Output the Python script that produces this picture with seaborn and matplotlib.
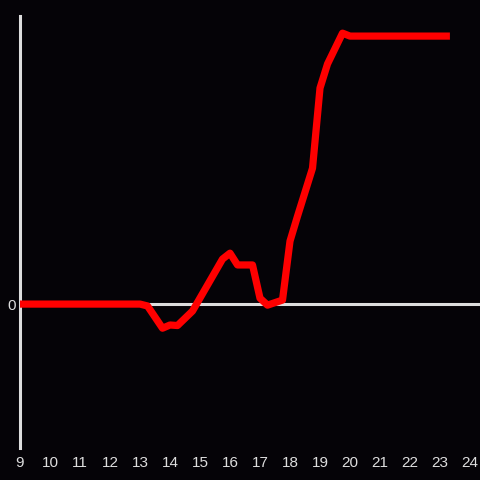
import numpy as np
import pandas as pd
import seaborn as sns
import matplotlib.pyplot as plt

# heures et valeurs
hours = [9.0, 13.0, 13.25, 13.75, 14.0, 14.25, 14.75, 15.75, 16.0, 16.25, 16.75,
         17.0, 17.25, 17.75, 18.0, 18.25, 18.75, 19.0, 19.25, 19.75, 20.0, 23.33]
values = [0, 0, -0.7, -9.0, -7.8, -8.0, -2.6, 16.8, 19.0, 14.6, 14.6,
          2.2, -0.4, 1.5, 23.5, 32.8, 50.7, 80.6, 89.6, 101.1, 100, 100]
x_ticks = list(range(9, 25))

df = pd.DataFrame({"heure": hours, "valeur": values})

sns.set_style("dark")
plt.rcParams['font.family'] = ['Liberation Sans', 'DejaVu Sans']

bg = "#050307"
fig = plt.figure(figsize=(4.8, 4.8), dpi=100, facecolor=bg)
ax = fig.add_axes([20 / 480, 32 / 480, 460 / 480, 432 / 480])
ax.set_facecolor(bg)

ax.axhline(0, color="#dddddd", lw=2.2, zorder=1)
sns.lineplot(data=df, x="heure", y="valeur", ax=ax, color="#ff0000", lw=5.2,
             solid_joinstyle="round", solid_capstyle="butt", zorder=3)

ax.set_xlim(9, 24.333)
ax.set_ylim(-53.7, 107.5)
ax.set_xticks(x_ticks)
ax.set_xticklabels([str(t) for t in x_ticks])
ax.set_yticks([0])
ax.set_yticklabels(["0"])
ax.tick_params(axis="both", length=0, colors="#dddddd", labelsize=11)
ax.tick_params(axis="x", pad=6)
ax.tick_params(axis="y", pad=3)
ax.set_xlabel("")
ax.set_ylabel("")
ax.grid(False)

for s in ["top", "right", "bottom"]:
    ax.spines[s].set_visible(False)
ax.spines["left"].set_color("#dddddd")
ax.spines["left"].set_linewidth(2.2)
ax.spines["left"].set_visible(True)

fig.savefig("out.png", dpi=100, facecolor=bg)
